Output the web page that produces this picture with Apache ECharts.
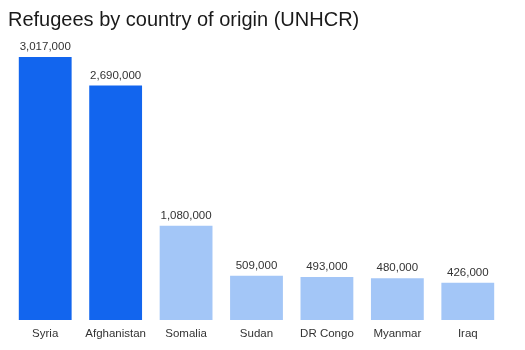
<!DOCTYPE html>
<html>
<head>
<meta charset="utf-8">
<script src="https://cdn.jsdelivr.net/npm/echarts@6/dist/echarts.min.js"></script>
<style>
  html, body { margin: 0; padding: 0; background: #fff; }
  #chart { width: 525px; height: 350px; }
</style>
</head>
<body>
<div id="chart"></div>
<script>
// Refugee counts by country of origin
const countries = ['Syria', 'Afghanistan', 'Somalia', 'Sudan', 'DR Congo', 'Myanmar', 'Iraq'];
const refugees = [3017000, 2690000, 1080000, 509000, 493000, 480000, 426000];
const highlighted = [true, true, false, false, false, false, false];

const DARK = '#1265EE';
const LIGHT = '#A3C6F7';
const FONT = 'Liberation Sans, Arial, sans-serif';

const chart = echarts.init(document.getElementById('chart'), null, { renderer: 'canvas' });

chart.setOption({
  animation: false,
  title: {
    text: 'Refugees by country of origin (UNHCR)',
    left: 3,
    top: 5,
    textStyle: {
      fontFamily: FONT,
      fontSize: 20,
      fontWeight: 'normal',
      color: '#1a1a1a'
    }
  },
  grid: { left: 10, right: 22, top: 57, bottom: 30, containLabel: false },
  xAxis: {
    type: 'category',
    data: countries,
    axisLine: { show: false },
    axisTick: { show: false },
    axisLabel: {
      interval: 0,
      margin: 8,
      fontFamily: FONT,
      fontSize: 11.5,
      color: '#333'
    }
  },
  yAxis: {
    type: 'value',
    min: 0,
    max: 3017000,
    show: false,
    splitLine: { show: false }
  },
  series: [{
    type: 'bar',
    barCategoryGap: '25%',
    data: refugees.map((v, i) => ({
      value: v,
      itemStyle: { color: highlighted[i] ? DARK : LIGHT }
    })),
    label: {
      show: true,
      position: 'top',
      distance: 4,
      fontFamily: FONT,
      fontSize: 11.5,
      color: '#333',
      formatter: p => p.value.toLocaleString('en-US')
    }
  }]
});
</script>
</body>
</html>
